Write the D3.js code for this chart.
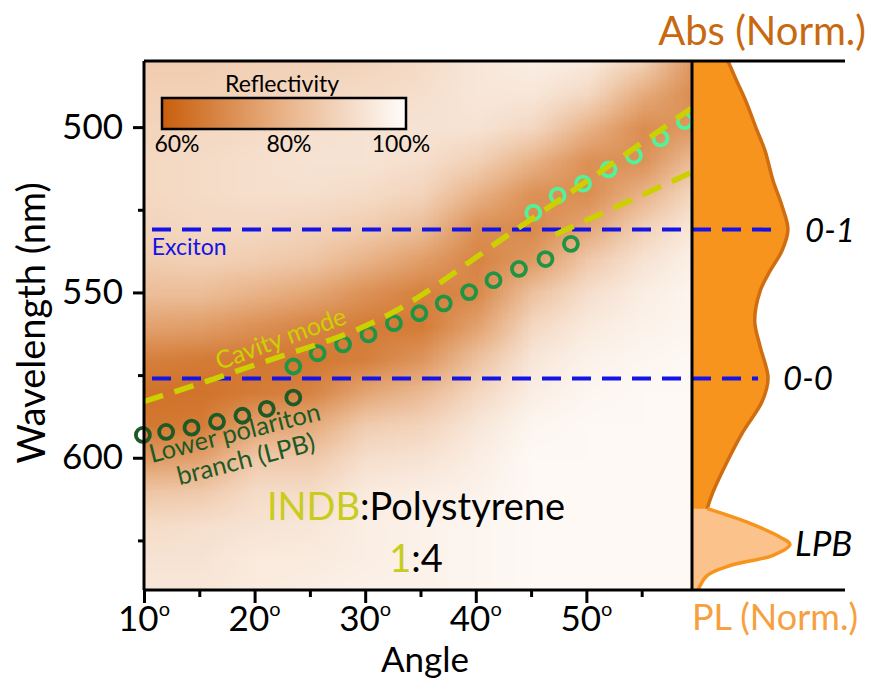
<!DOCTYPE html>
<html>
<head>
<meta charset="utf-8">
<script src="https://cdn.jsdelivr.net/npm/d3@7"></script>
<style>
  body { margin: 0; background: #fff; }
  svg text { font-family: Lato, "Open Sans", sans-serif; }
</style>
</head>
<body>
<script>
// reflectivity map (%), rows = wavelengths, columns = angles
var angles = [10, 15, 20, 25, 30, 35, 40, 45, 50, 55, 60];
var wavelengths = [480, 490, 500, 510, 520, 530, 540, 550, 560, 570, 580, 590, 600, 610, 620, 630, 640];
var reflectivity = [
  [87, 87, 88, 88, 89, 91, 94, 96, 95, 88, 72],
  [88, 88, 89, 90, 91, 92, 94, 94, 90, 78, 70],
  [89, 90, 91, 92, 93, 93, 93, 90, 80, 71, 74],
  [90, 91, 92, 93, 93, 92, 88, 80, 72, 72, 84],
  [90, 91, 92, 92, 91, 89, 80, 72, 71, 80, 91],
  [89, 90, 90, 89, 87, 83, 72, 70, 77, 88, 95],
  [87, 88, 87, 85, 80, 75, 69, 74, 86, 93, 97],
  [83, 83, 80, 77, 72, 68, 70, 84, 92, 96, 98],
  [76, 75, 72, 69, 67, 67, 76, 90, 95, 97, 98],
  [68, 67, 66, 66, 68, 73, 84, 94, 97, 98, 99],
  [65, 65, 67, 69, 77, 82, 90, 96, 98, 99, 99],
  [66, 67, 76, 78, 87, 89, 94, 98, 99, 99, 99],
  [74, 76, 86, 86, 92, 93, 96, 99, 99, 99, 99],
  [85, 86, 91, 91, 95, 96, 97, 99, 99, 99, 99],
  [91, 92, 93, 94, 96, 97, 98, 99, 99, 99, 99],
  [93, 93, 95, 95, 96, 97, 98, 99, 99, 99, 99],
  [94, 94, 95, 96, 97, 97, 98, 99, 99, 99, 99]
];

// polariton points (angle, nm)
var lpbDarkAngle = [9.9, 12.0, 14.3, 16.6, 18.9, 21.1, 23.5];
var lpbDarkWl    = [593.1, 592.2, 590.9, 589.1, 587.3, 585.2, 581.8];
var lpbMidAngle  = [23.5, 25.7, 28.0, 30.3, 32.6, 34.9, 37.1, 39.4, 41.6, 43.9, 46.3, 48.6];
var lpbMidWl     = [572.4, 568.4, 565.7, 562.7, 559.3, 556.3, 553.3, 549.9, 546.3, 542.9, 539.9, 535.3];
var lpbBrightAngle = [45.2, 47.4, 49.7, 52.0, 54.3, 56.7, 58.9];
var lpbBrightWl    = [525.9, 520.7, 517.1, 512.8, 508.6, 503.4, 498.2];

// cavity mode dashed curves
var cavityAngle = [10, 19.6, 32.2, 42.8, 59.5];
var cavityWl    = [583.0, 572.4, 556.6, 532.9, 494.3];
var cavity2Angle = [47.2, 59.5];
var cavity2Wl    = [532.5, 513.7];

var excitonWl = 531;
var vibronicWl = 576;

// absorbance and PL spectra (normalised)
var absWl  = [480, 485.8, 491.9, 501, 507.1, 516.2, 523.8, 531, 537.4, 543.5, 549.6, 558.7, 566.3, 576, 583, 592.2, 601.3, 610.4, 615.6, 625.6, 640];
var absVal = [0.235, 0.29, 0.35, 0.425, 0.477, 0.53, 0.588, 0.627, 0.588, 0.51, 0.445, 0.41, 0.445, 0.497, 0.458, 0.333, 0.229, 0.137, 0.098, 0.05, 0.03];
var plWl  = [615.4, 619.5, 624.1, 626.2, 629.5, 632.6, 635.6, 640];
var plVal = [0.1, 0.36, 0.58, 0.64, 0.53, 0.25, 0.1, 0.04];

var yMajor = [500, 550, 600];
var yMinor = [525, 575, 625];
var xMajor = [10, 20, 30, 40, 50];
var xMinor = [15, 25, 35, 45, 55];
var legendTicks = [60, 80, 100];

var W = 869, H = 679;
var x = d3.scaleLinear().domain([10, 59.55]).range([144, 692]);
var y = d3.scaleLinear().domain([480, 640]).range([61, 590]);
var xr = d3.scaleLinear().domain([0, 1]).range([692, 845]);
var color = d3.scaleLinear().domain([60, 80, 100]).range(["#c95e0c", "#e9b388", "#fffdfb"]).clamp(true);

var svg = d3.select("body").append("svg").attr("width", W).attr("height", H);
var defs = svg.append("defs");
defs.append("clipPath").attr("id", "plot")
  .append("rect").attr("x", 144).attr("y", 61).attr("width", 548).attr("height", 529);

// heatmap: one pixel per cell, smoothed when scaled
var cv = document.createElement("canvas");
cv.width = angles.length; cv.height = wavelengths.length;
var ctx = cv.getContext("2d");
var img = ctx.createImageData(cv.width, cv.height);
reflectivity.forEach(function(row, j) {
  row.forEach(function(v, i) {
    var c = d3.rgb(color(v));
    var k = (j * cv.width + i) * 4;
    img.data[k] = c.r; img.data[k + 1] = c.g; img.data[k + 2] = c.b; img.data[k + 3] = 255;
  });
});
ctx.putImageData(img, 0, 0);
var dA = angles[1] - angles[0], dW = wavelengths[1] - wavelengths[0];
svg.append("g").attr("clip-path", "url(#plot)")
  .append("image")
  .attr("href", cv.toDataURL())
  .attr("x", x(angles[0] - dA / 2))
  .attr("y", y(wavelengths[0] - dW / 2))
  .attr("width", x(angles[angles.length - 1] + dA / 2) - x(angles[0] - dA / 2))
  .attr("height", y(wavelengths[wavelengths.length - 1] + dW / 2) - y(wavelengths[0] - dW / 2))
  .attr("preserveAspectRatio", "none");

// absorbance
var absData = absWl.map(function(w, i) { return [w, absVal[i]]; });
var plData = plWl.map(function(w, i) { return [w, plVal[i]]; });
var area = d3.area().curve(d3.curveCatmullRom)
  .y(function(d) { return y(d[0]); })
  .x0(xr(0)).x1(function(d) { return xr(d[1]); });
var edge = d3.line().curve(d3.curveCatmullRom)
  .y(function(d) { return y(d[0]); })
  .x(function(d) { return xr(d[1]); });
svg.append("path").datum(absData).attr("d", area).attr("fill", "#f7941e");
svg.append("path").datum(absData).attr("d", edge).attr("fill", "none")
  .attr("stroke", "#d06d10").attr("stroke-width", 3.5);
svg.append("path").datum(plData).attr("d", area).attr("fill", "#fbc28c");
svg.append("path").datum(plData).attr("d", edge).attr("fill", "none")
  .attr("stroke", "#f7941e").attr("stroke-width", 3.5);

// exciton / 0-0 lines run into the abs panel
function absAt(w) {
  var i = d3.minIndex(absWl, function(a) { return Math.abs(a - w); });
  return absVal[i];
}
[excitonWl, vibronicWl].forEach(function(w) {
  svg.append("line")
    .attr("x1", x(10)).attr("x2", xr(absAt(w)) - 10)
    .attr("y1", y(w)).attr("y2", y(w))
    .attr("stroke", "#1414e6").attr("stroke-width", 4)
    .attr("stroke-dasharray", "19,11").attr("stroke-dashoffset", -8);
});

// polariton circles
function circles(a, w, col) {
  svg.append("g").selectAll("circle").data(a).enter().append("circle")
    .attr("cx", function(d) { return x(d); })
    .attr("cy", function(d, i) { return y(w[i]); })
    .attr("r", 7)
    .attr("fill", "none").attr("stroke", col).attr("stroke-width", 3.8);
}
circles(lpbDarkAngle, lpbDarkWl, "#1d5a26");
circles(lpbMidAngle, lpbMidWl, "#1f9444");
circles(lpbBrightAngle, lpbBrightWl, "#50f29a");

// cavity mode
var cavLine = d3.line().curve(d3.curveMonotoneX)
  .x(function(d) { return x(d[0]); }).y(function(d) { return y(d[1]); });
[[cavityAngle, cavityWl], [cavity2Angle, cavity2Wl]].forEach(function(s) {
  svg.append("path").datum(s[0].map(function(a, i) { return [a, s[1][i]]; }))
    .attr("clip-path", "url(#plot)")
    .attr("d", cavLine).attr("fill", "none")
    .attr("stroke", "#cdd000").attr("stroke-width", 5.5)
    .attr("stroke-dasharray", "20,12");
});

// frame
var frame = svg.append("g").attr("stroke", "#000").attr("stroke-width", 3);
frame.append("line").attr("x1", 144).attr("x2", 845).attr("y1", 61).attr("y2", 61);
frame.append("line").attr("x1", 144).attr("x2", 845).attr("y1", 590).attr("y2", 590);
frame.append("line").attr("x1", 144).attr("x2", 144).attr("y1", 61).attr("y2", 590);
frame.append("line").attr("x1", 692).attr("x2", 692).attr("y1", 61).attr("y2", 590);

// axes
function styleAxis(g) {
  g.select(".domain").remove();
  g.selectAll(".tick line").attr("stroke", "#000").attr("stroke-width", 3);
  g.selectAll("text").attr("fill", "#000").style("font-family", "Lato").style("font-size", "35px");
}
svg.append("g").attr("transform", "translate(144,0)")
  .call(d3.axisLeft(y).tickValues(yMajor).tickSize(11).tickPadding(10))
  .call(styleAxis);
svg.append("g").attr("transform", "translate(144,0)")
  .call(d3.axisLeft(y).tickValues(yMinor).tickSize(6).tickFormat(""))
  .call(styleAxis);
svg.append("g").attr("transform", "translate(0,590)")
  .call(d3.axisBottom(x).tickValues(xMajor).tickSize(13).tickFormat(""))
  .call(styleAxis);
svg.append("g").attr("transform", "translate(0,590)")
  .call(d3.axisBottom(x).tickValues(xMinor).tickSize(7).tickFormat(""))
  .call(styleAxis);
xMajor.forEach(function(v) {
  var t = svg.append("text").attr("x", x(v)).attr("y", 631)
    .attr("text-anchor", "middle").attr("font-size", 35);
  t.append("tspan").text(v);
  t.append("tspan").attr("font-size", 20).attr("dy", -15).text("o");
});
svg.append("text").attr("x", 425).attr("y", 672)
  .attr("text-anchor", "middle").attr("font-size", 35).text("Angle");
svg.append("text").attr("transform", "translate(45,323) rotate(-90)")
  .attr("text-anchor", "middle").attr("font-size", 38).text("Wavelength (nm)");

// legend
var grad = defs.append("linearGradient").attr("id", "lg");
legendTicks.forEach(function(t, i) {
  grad.append("stop").attr("offset", (i / (legendTicks.length - 1) * 100) + "%").attr("stop-color", color(t));
});
svg.append("rect").attr("x", 162).attr("y", 98).attr("width", 244).attr("height", 31)
  .attr("fill", "url(#lg)").attr("stroke", "#000").attr("stroke-width", 2.5);
svg.append("text").attr("x", 282).attr("y", 92).attr("text-anchor", "middle")
  .attr("font-size", 23).text("Reflectivity");
var lx = d3.scaleLinear().domain([60, 100]).range([177, 401]);
legendTicks.forEach(function(t) {
  svg.append("text").attr("x", lx(t)).attr("y", 152).attr("text-anchor", "middle")
    .attr("font-size", 23).text(t + "%");
});

// annotations
svg.append("text").attr("x", x(10.7)).attr("y", y(538.7)).attr("font-size", 23)
  .attr("fill", "#1414e6").text("Exciton");
svg.append("text").attr("transform", "translate(" + x(16.8) + "," + y(573.5) + ") rotate(-20)")
  .attr("font-size", 25).attr("fill", "#cdd000").text("Cavity mode");
svg.append("text").attr("transform", "translate(" + x(10.7) + "," + y(601.6) + ") rotate(-14.3)")
  .attr("font-size", 25.5).attr("fill", "#1d5a26").text("Lower polariton");
svg.append("text").attr("transform", "translate(" + x(13.2) + "," + y(608.3) + ") rotate(-14.3)")
  .attr("font-size", 25.5).attr("fill", "#1d5a26").text("branch (LPB)");

var t1 = svg.append("text").attr("x", 416).attr("y", y(618.8))
  .attr("text-anchor", "middle").attr("font-size", 38);
t1.append("tspan").attr("fill", "#c8cc1c").text("INDB");
t1.append("tspan").attr("fill", "#000").text(":Polystyrene");
var t2 = svg.append("text").attr("x", 416).attr("y", y(634.6))
  .attr("text-anchor", "middle").attr("font-size", 38);
t2.append("tspan").attr("fill", "#c8cc1c").text("1");
t2.append("tspan").attr("fill", "#000").text(":4");

svg.append("text").attr("x", 805).attr("y", y(excitonWl) + 12).attr("font-size", 33)
  .attr("font-style", "italic").text("0-1");
svg.append("text").attr("x", 783).attr("y", y(vibronicWl) + 12).attr("font-size", 33)
  .attr("font-style", "italic").text("0-0");
svg.append("text").attr("x", 795).attr("y", y(626.2) + 12).attr("font-size", 35)
  .attr("font-style", "italic").text("LPB");

svg.append("text").attr("x", 866).attr("y", 45).attr("text-anchor", "end")
  .attr("font-size", 40).attr("fill", "#c8690f").text("Abs (Norm.)");
svg.append("text").attr("x", 858).attr("y", 630).attr("text-anchor", "end")
  .attr("font-size", 36).attr("fill", "#f7a040").text("PL (Norm.)");
</script>
</body>
</html>
